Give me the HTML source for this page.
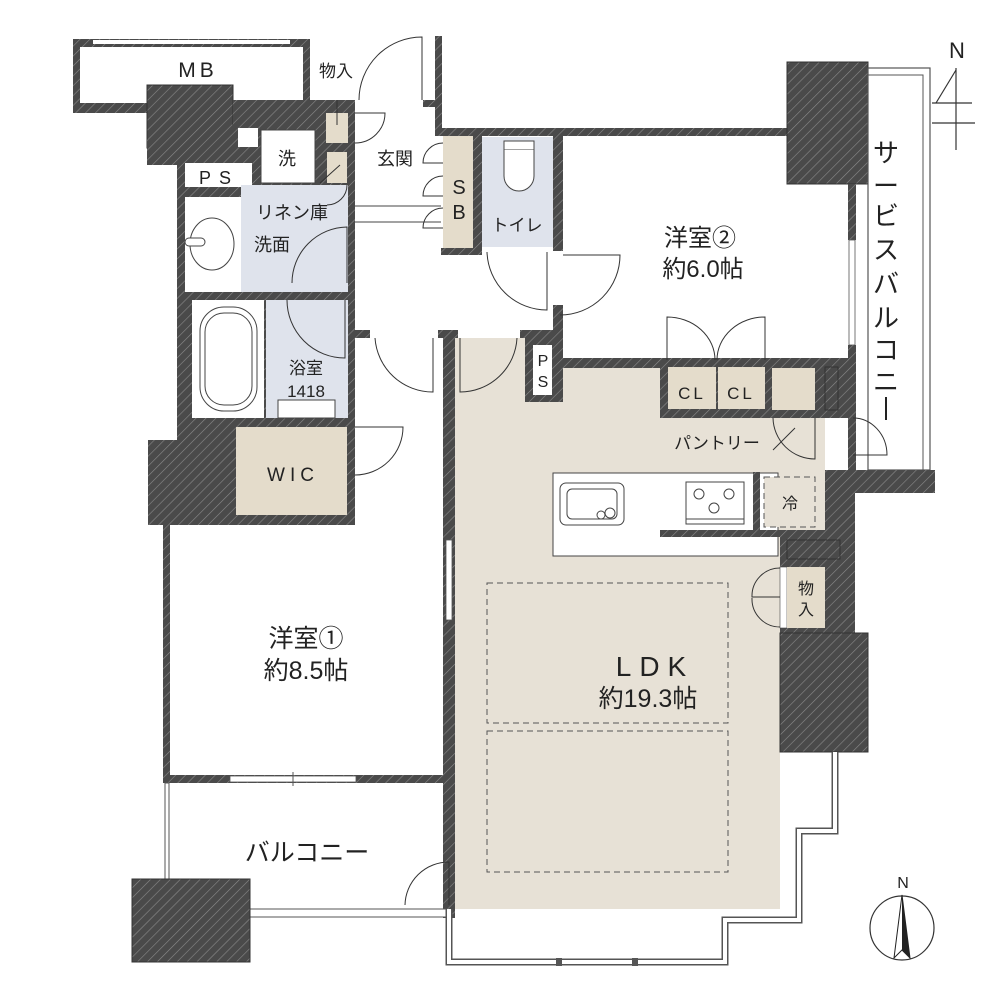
<!DOCTYPE html>
<html><head><meta charset="utf-8"><style>
html,body{margin:0;padding:0;background:#fff;}
svg{display:block;}
text{font-family:"Liberation Sans","Noto Sans CJK JP",sans-serif;fill:#222;}
</style></head><body>
<svg width="1000" height="1000" viewBox="0 0 1000 1000" xmlns="http://www.w3.org/2000/svg">
<defs>
<pattern id="h" patternUnits="userSpaceOnUse" width="7" height="7" patternTransform="rotate(45)">
<rect width="7" height="7" fill="#4a4a4a"/><line x1="0" y1="0" x2="0" y2="7" stroke="#8a8a8a" stroke-width="1.2"/>
</pattern>
</defs>
<rect width="1000" height="1000" fill="#fff"/>

<!-- LDK floor -->
<polygon points="455,338 525,338 525,402 563,402 563,368 660,368 660,418 825,418 825,537 780,537 780,909 455,909" fill="#e7e1d6"/>
<!-- kitchen counter -->
<rect x="553" y="473" width="225" height="83" fill="#fff" stroke="#444" stroke-width="1"/>
<rect x="560" y="483" width="64" height="42" rx="6" fill="#fff" stroke="#444"/>
<rect x="567" y="489" width="50" height="30" rx="5" fill="none" stroke="#444"/>
<circle cx="601" cy="515" r="4" fill="none" stroke="#444"/><circle cx="610" cy="513" r="5" fill="none" stroke="#444"/>
<rect x="686" y="482" width="58" height="42" fill="#fff" stroke="#444"/>
<line x1="686" y1="519" x2="744" y2="519" stroke="#444"/>
<circle cx="699" cy="494" r="5" fill="none" stroke="#444"/><circle cx="729" cy="494" r="5" fill="none" stroke="#444"/><circle cx="714" cy="508" r="5" fill="none" stroke="#444"/>
<rect x="764" y="477" width="51" height="50" fill="#e7e1d6" stroke="#555" stroke-dasharray="6,4"/>
<!-- dashed rug areas -->
<rect x="487" y="583" width="241" height="140" fill="none" stroke="#555" stroke-dasharray="6,4"/>
<rect x="487" y="731" width="241" height="141" fill="none" stroke="#555" stroke-dasharray="6,4"/>

<!-- MB -->
<rect x="73" y="39" width="237" height="74" fill="url(#h)"/>
<rect x="80" y="47" width="223" height="56" fill="#fff"/>
<rect x="93" y="40" width="197" height="4" fill="#fff"/>
<rect x="147" y="85" width="86" height="63" fill="url(#h)" stroke="#333"/>
<rect x="233" y="100" width="122" height="28" fill="url(#h)"/>

<!-- bath column -->
<rect x="177" y="125" width="178" height="400" fill="url(#h)"/>
<rect x="148" y="440" width="40" height="85" fill="url(#h)"/>
<rect x="147" y="140" width="86" height="25" fill="url(#h)"/>
<rect x="185" y="163" width="67" height="24" fill="#fff"/>
<rect x="238" y="128" width="20" height="19" fill="#fff"/>
<rect x="261" y="130" width="54" height="53" fill="#fff" stroke="#444"/>
<rect x="326" y="113" width="22" height="30" fill="#e4dccb"/>
<rect x="327" y="152" width="20" height="31" fill="#e4dccb"/>
<rect x="185" y="197" width="56" height="95" fill="#fff"/>
<rect x="241" y="185" width="107" height="107" fill="#dfe3ec"/>
<ellipse cx="212" cy="244" rx="22" ry="26" fill="none" stroke="#444"/>
<rect x="185" y="238" width="20" height="8" rx="4" fill="#fff" stroke="#444"/>
<rect x="192" y="300" width="72" height="118" fill="#fff"/>
<rect x="200" y="307" width="57" height="104" rx="24" fill="none" stroke="#444"/>
<rect x="205" y="313" width="47" height="92" rx="19" fill="none" stroke="#444"/>
<rect x="266" y="300" width="82" height="118" fill="#dfe3ec"/>
<rect x="278" y="400" width="57" height="18" fill="#fff" stroke="#444"/>
<rect x="236" y="427" width="111" height="88" fill="#e4dccb"/>
<rect x="348" y="136" width="7" height="65" fill="url(#h)"/>
<line x1="355" y1="206" x2="441" y2="206" stroke="#444"/><line x1="355" y1="222" x2="441" y2="222" stroke="#444"/>

<!-- corridor walls -->
<rect x="435" y="36" width="7" height="100" fill="url(#h)"/>
<rect x="423" y="100" width="19" height="7" fill="url(#h)"/>
<rect x="440" y="128" width="348" height="8" fill="url(#h)"/>
<rect x="443" y="136" width="30" height="112" fill="#e4dccb"/>
<rect x="473" y="136" width="9" height="119" fill="url(#h)"/>
<rect x="441" y="248" width="41" height="7" fill="url(#h)"/>
<rect x="482" y="137" width="71" height="110" fill="#dfe3ec"/>
<rect x="504" y="141" width="30" height="9" fill="#fff" stroke="#444"/>
<path d="M504,150 L504,176 A15,15 0 0 0 534,176 L534,150" fill="#fff" stroke="#444"/>
<rect x="553" y="136" width="10" height="115" fill="url(#h)"/>
<rect x="553" y="305" width="10" height="60" fill="url(#h)"/>
<rect x="355" y="330" width="15" height="8" fill="url(#h)"/>
<rect x="438" y="330" width="20" height="8" fill="url(#h)"/>
<rect x="520" y="330" width="43" height="8" fill="url(#h)"/>
<rect x="525" y="338" width="38" height="64" fill="url(#h)"/>
<rect x="533" y="345" width="19" height="50" fill="#fff"/>
<rect x="443" y="338" width="12" height="580" fill="url(#h)"/>
<rect x="446" y="540" width="6" height="80" fill="#fff" stroke="#555" stroke-width="0.8"/>

<!-- room 2 walls -->
<rect x="787" y="62" width="81" height="122" fill="url(#h)" stroke="#333"/>
<rect x="848" y="184" width="8" height="56" fill="url(#h)"/>
<rect x="849" y="240" width="6" height="105" fill="#fff" stroke="#555" stroke-width="0.8"/>
<rect x="848" y="345" width="8" height="125" fill="url(#h)"/>
<rect x="563" y="358" width="105" height="10" fill="url(#h)"/>
<rect x="660" y="358" width="196" height="60" fill="url(#h)"/>
<rect x="668" y="367" width="48" height="42" fill="#e4dccb"/>
<rect x="718" y="367" width="47" height="42" fill="#e4dccb"/>
<rect x="772" y="368" width="43" height="42" fill="#e4dccb"/>
<rect x="815" y="368" width="10" height="50" fill="url(#h)"/>
<rect x="825" y="367" width="13" height="43" fill="url(#h)" stroke="#333"/>
<rect x="838" y="418" width="10" height="52" fill="#fff"/>
<!-- service balcony -->
<rect x="868" y="68" width="62" height="402" fill="none" stroke="#555" stroke-width="1.2"/>
<rect x="868" y="75" width="55" height="395" fill="none" stroke="#555" stroke-width="1"/>
<rect x="825" y="470" width="110" height="23" fill="url(#h)"/>
<rect x="825" y="493" width="30" height="140" fill="url(#h)"/>
<rect x="753" y="472" width="7" height="58" fill="url(#h)"/>
<rect x="660" y="530" width="165" height="7" fill="url(#h)"/>
<rect x="780" y="537" width="45" height="96" fill="url(#h)"/>
<rect x="787" y="540" width="53" height="19" fill="url(#h)" stroke="#333"/>
<rect x="780" y="567" width="7" height="61" fill="#fff" stroke="#444" stroke-width="0.6"/>
<rect x="787" y="567" width="38" height="61" fill="#e4dccb"/>
<rect x="780" y="633" width="88" height="119" fill="url(#h)" stroke="#333"/>
<!-- bay windows -->
<path d="M835,752 L835,831 L799,831 L799,920 L725,920 L725,962 L449,962 L449,909" fill="none" stroke="#555" stroke-width="7"/>
<path d="M835,752 L835,831 L799,831 L799,920 L725,920 L725,962 L449,962 L449,909" fill="none" stroke="#fff" stroke-width="4"/>
<rect x="556" y="958" width="6" height="8" fill="#555"/><rect x="632" y="958" width="6" height="8" fill="#555"/>

<!-- room 1 -->
<rect x="163" y="520" width="7" height="263" fill="url(#h)"/>
<rect x="163" y="775" width="290" height="8" fill="url(#h)"/>
<rect x="230" y="776" width="126" height="6" fill="#fff" stroke="#555" stroke-width="0.8"/>
<line x1="293" y1="772" x2="293" y2="786" stroke="#555"/>
<rect x="165" y="783" width="4" height="100" fill="#fff" stroke="#555" stroke-width="1"/>
<rect x="250" y="909" width="196" height="8" fill="#fff" stroke="#555" stroke-width="1"/>
<rect x="132" y="879" width="118" height="83" fill="url(#h)" stroke="#333"/>

<!-- doors -->
<g fill="none" stroke="#333" stroke-width="1">
<path d="M422,100 L422,37 A63,63 0 0 0 359,100"/>
<path d="M355,113 L385,113 A30,30 0 0 1 355,143"/>
<path d="M347,283 L347,227 A56,56 0 0 0 292,283"/>
<path d="M347,185 A20,20 0 0 1 327,205"/>
<path d="M345,300 L345,358 A58,58 0 0 1 287,300"/>
<path d="M433,338 L433,392 A58,58 0 0 1 375,338"/>
<path d="M460,338 L460,392 A57,57 0 0 0 517,338"/>
<path d="M443,143 A20,20 0 0 0 423,163 L443,163"/><path d="M443,176 A20,20 0 0 0 423,196 L443,196"/><path d="M443,208 A20,20 0 0 0 423,228 L443,228"/>
<path d="M547,252 L547,310 A60,60 0 0 1 487,252"/>
<path d="M563,255 L620,255 A60,60 0 0 1 560,315"/>
<path d="M667,360 L667,317 A48,43 0 0 1 715,360"/>
<path d="M765,360 L765,317 A48,43 0 0 0 717,360"/>
<path d="M815,418 L815,459 A42,42 0 0 1 773,418"/>
<line x1="773" y1="450" x2="795" y2="428"/>
<path d="M853,455 L887,455 A34,37 0 0 0 853,418"/>
<path d="M780,568 A28,28 0 0 0 752,597 L780,597"/><path d="M780,627 A28,28 0 0 1 752,598"/>
<path d="M449,905 L449,862 A44,44 0 0 0 405,905"/>
<path d="M355,427 L403,427 A48,48 0 0 1 355,475"/>
<line x1="337" y1="100" x2="337" y2="125"/>
<line x1="340" y1="165" x2="320" y2="183"/>
</g>

<!-- compass -->
<ellipse cx="902" cy="928" rx="32" ry="32" fill="#fff" stroke="#333" stroke-width="1.2"/>
<polygon points="902,895 894,958 902,950 910,958" fill="#fff" stroke="#222"/>
<polygon points="902,895 902,950 910,958" fill="#222"/>
<text x="903" y="888" font-size="16" text-anchor="middle">N</text>
<text x="957" y="58" font-size="22" text-anchor="middle">N</text>
<g stroke="#333" stroke-width="1.2" fill="none"><line x1="956" y1="68" x2="956" y2="150"/><line x1="932" y1="103" x2="972" y2="103"/><line x1="932" y1="123" x2="975" y2="123"/><line x1="956" y1="70" x2="936" y2="103"/></g>

<!-- labels -->
<text x="198" y="77" font-size="21" text-anchor="middle" letter-spacing="4">MB</text>
<text x="336" y="77" font-size="17" text-anchor="middle">物入</text>
<text x="287" y="165" font-size="18" text-anchor="middle">洗</text>
<text x="219" y="184" font-size="18" text-anchor="middle" letter-spacing="8">PS</text>
<text x="395" y="165" font-size="18" text-anchor="middle">玄関</text>
<text x="459" y="194" font-size="20" text-anchor="middle">S</text>
<text x="459" y="219" font-size="20" text-anchor="middle">B</text>
<text x="517" y="231" font-size="17" text-anchor="middle">トイレ</text>
<text x="292" y="219" font-size="18" text-anchor="middle">リネン庫</text>
<text x="272" y="251" font-size="18" text-anchor="middle">洗面</text>
<text x="306" y="374" font-size="17" text-anchor="middle">浴室</text>
<text x="306" y="397" font-size="17" text-anchor="middle">1418</text>
<text x="293" y="481" font-size="19" text-anchor="middle" letter-spacing="5">WIC</text>
<text x="543" y="366" font-size="16" text-anchor="middle">P</text>
<text x="543" y="387" font-size="16" text-anchor="middle">S</text>
<text x="700" y="246" font-size="24" text-anchor="middle">洋室②</text>
<text x="703" y="277" font-size="24" text-anchor="middle">約6.0帖</text>
<text x="692" y="399" font-size="17" text-anchor="middle" letter-spacing="3">CL</text>
<text x="741" y="399" font-size="17" text-anchor="middle" letter-spacing="3">CL</text>
<text x="717" y="449" font-size="17" text-anchor="middle">パントリー</text>
<text x="790" y="509" font-size="16" text-anchor="middle">冷</text>
<text x="806" y="594" font-size="16" text-anchor="middle">物</text>
<text x="806" y="615" font-size="16" text-anchor="middle">入</text>
<g font-size="26" text-anchor="middle">
<text x="886" y="162">サ</text><text x="886" y="195">ー</text>
<text x="886" y="225">ビ</text><text x="886" y="259">ス</text><text x="886" y="293">バ</text><text x="886" y="327">ル</text><text x="886" y="359">コ</text><text x="886" y="391">ニ</text>
</g>
<line x1="886" y1="397" x2="886" y2="420" stroke="#222" stroke-width="2"/>
<text x="655" y="676" font-size="28" text-anchor="middle" letter-spacing="8">LDK</text>
<text x="648" y="707" font-size="25" text-anchor="middle">約19.3帖</text>
<text x="306" y="647" font-size="25" text-anchor="middle">洋室①</text>
<text x="306" y="679" font-size="25" text-anchor="middle">約8.5帖</text>
<text x="307" y="861" font-size="25" text-anchor="middle">バルコニー</text>
</svg>
</body></html>
